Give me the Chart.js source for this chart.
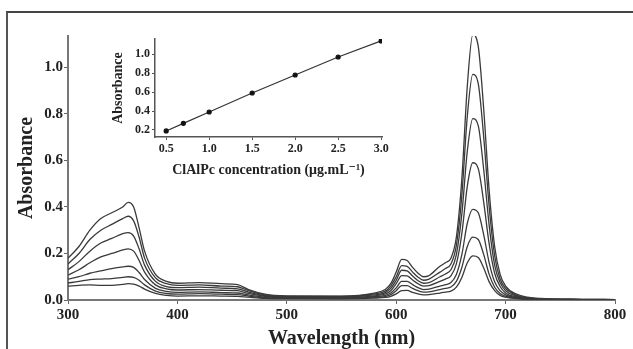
<!DOCTYPE html>
<html>
<head>
<meta charset="utf-8">
<script src="https://cdn.jsdelivr.net/npm/chart.js@4"></script>
<style>
  body { margin: 0; background: #fff; }
  #wrap { position: relative; width: 633px; height: 349px; }
  #frame { position: absolute; left: 6px; top: 11px; right: 0; bottom: 0;
           border-top: 2px solid #444; border-left: 2px solid #555; }
  #mainChart { position: absolute; left: 0; top: 0; }
  #insetChart { position: absolute; left: 90px; top: 25px; }
</style>
</head>
<body>
<div id="wrap">
  <div id="frame"></div>
  <canvas id="mainChart" width="633" height="349"></canvas>
  <canvas id="insetChart" width="320" height="160"></canvas>
</div>
<script>
// wavelengths (nm) of the sampled spectra
var wavelength = [300,310,320,330,340,350,355,360,365,370,380,390,400,420,440,455,465,480,500,550,580,590,595,600,605,610,615,620,625,630,640,645,650,655,660,665,670,675,680,685,690,695,700,710,720,740,770,800];

// absorbance spectra, one per concentration (ug/mL)
var spec30 = [.18,.23,.30,.35,.375,.40,.42,.40,.31,.21,.11,.08,.072,.075,.07,.066,.045,.025,.018,.017,.03,.045,.07,.12,.175,.17,.14,.115,.10,.105,.145,.16,.18,.27,.52,.92,1.14,1.09,.82,.47,.23,.11,.06,.025,.012,.005,.003,.002];
var spec25 = [.155,.20,.26,.30,.325,.35,.36,.34,.27,.18,.095,.07,.063,.065,.06,.057,.04,.022,.016,.015,.026,.038,.06,.10,.148,.145,.12,.098,.085,.09,.12,.135,.155,.235,.45,.79,.97,.93,.70,.40,.19,.09,.05,.02,.01,.004,.003,.002];
var spec20 = [.13,.165,.21,.245,.265,.285,.29,.275,.22,.15,.08,.058,.053,.055,.051,.048,.034,.019,.014,.013,.022,.032,.05,.085,.128,.125,.103,.083,.072,.075,.10,.112,.13,.195,.37,.64,.78,.75,.56,.32,.15,.075,.04,.017,.008,.004,.002,.002];
var spec15 = [.107,.13,.16,.185,.20,.215,.22,.21,.17,.12,.065,.048,.043,.045,.042,.04,.028,.016,.012,.011,.018,.026,.04,.07,.105,.104,.086,.07,.06,.062,.08,.09,.104,.155,.285,.49,.59,.565,.42,.24,.115,.058,.03,.013,.006,.003,.002,.001];
var spec10 = [.09,.10,.115,.125,.135,.142,.145,.14,.118,.088,.05,.037,.033,.035,.032,.03,.022,.013,.01,.009,.014,.02,.03,.052,.08,.08,.066,.053,.045,.047,.06,.066,.075,.11,.195,.33,.39,.375,.28,.16,.078,.04,.022,.01,.005,.003,.002,.001];
var spec07 = [.073,.08,.088,.09,.092,.097,.10,.097,.085,.065,.038,.028,.025,.027,.025,.023,.017,.01,.008,.007,.011,.015,.023,.04,.062,.062,.05,.04,.034,.035,.045,.05,.056,.08,.14,.23,.27,.26,.195,.11,.055,.028,.016,.008,.004,.002,.001,.001];
var spec05 = [.06,.063,.065,.063,.063,.067,.07,.068,.06,.047,.028,.02,.017,.018,.017,.016,.012,.007,.006,.005,.008,.011,.016,.026,.04,.041,.033,.026,.022,.023,.03,.034,.038,.055,.097,.16,.19,.183,.138,.078,.04,.02,.012,.006,.003,.002,.001,.001];

// calibration (inset)
var concentration = [0.5, 0.7, 1.0, 1.5, 2.0, 2.5, 3.0];
var peakAbsorbance = [0.19, 0.27, 0.39, 0.59, 0.78, 0.97, 1.14];

var serif = "'Liberation Serif', 'DejaVu Serif', serif";
var ink = '#222';

function toPoints(xs, ys) {
    return xs.map(function (x, i) { return {x: x, y: ys[i]}; });
}

var spectra = [spec30, spec25, spec20, spec15, spec10, spec07, spec05];

new Chart(document.getElementById('mainChart'), {
    type: 'line',
    data: {
        datasets: spectra.map(function (s) {
            return {
                data: toPoints(wavelength, s),
                borderColor: '#3a3a3a',
                borderWidth: 1.3,
                pointRadius: 0,
                fill: false,
                cubicInterpolationMode: 'monotone'
            };
        })
    },
    options: {
        responsive: false,
        animation: false,
        layout: { padding: { left: 0, top: 36, right: 18, bottom: 0 } },
        plugins: { legend: { display: false }, tooltip: { enabled: false } },
        scales: {
            x: {
                type: 'linear',
                min: 300,
                max: 800,
                afterFit: function (scale) { scale.height = 49; },
                grid: { drawOnChartArea: false, tickLength: 4, color: '#666' },
                border: { color: '#777', width: 2 },
                ticks: { stepSize: 100, padding: 2, color: ink, font: { family: serif, size: 15, weight: 'bold' } },
                title: { display: true, text: 'Wavelength (nm)', color: ink, padding: { top: 0, bottom: 0 },
                         font: { family: serif, size: 20, weight: 'bold', lineHeight: 1 } }
            },
            y: {
                min: 0,
                max: 1.135,
                afterFit: function (scale) { scale.width = 68; },
                afterBuildTicks: function (scale) {
                    scale.ticks = scale.ticks.filter(function (t) { return t.value <= 1.0001; });
                },
                grid: { drawOnChartArea: false, tickLength: 4, color: '#666' },
                border: { color: '#777', width: 2 },
                ticks: { stepSize: 0.2, padding: 1, color: ink,
                         callback: function (v) { return v.toFixed(1); },
                         font: { family: serif, size: 15, weight: 'bold' } },
                title: { display: true, text: 'Absorbance', color: ink, padding: { top: 15, bottom: 0 },
                         font: { family: serif, size: 20, weight: 'bold', lineHeight: 1.2 } }
            }
        }
    }
});

new Chart(document.getElementById('insetChart'), {
    type: 'line',
    data: {
        datasets: [{
            data: toPoints(concentration, peakAbsorbance),
            borderColor: '#333',
            borderWidth: 1.2,
            pointRadius: 2,
            pointBackgroundColor: '#111',
            pointBorderColor: '#111',
            fill: false,
            tension: 0
        }]
    },
    options: {
        responsive: false,
        animation: false,
        layout: { padding: { left: 0, top: 14, right: 28, bottom: 0 } },
        plugins: { legend: { display: false }, tooltip: { enabled: false } },
        scales: {
            x: {
                type: 'linear',
                min: 0.37,
                max: 3.01,
                afterFit: function (scale) { scale.height = 48; },
                afterBuildTicks: function (scale) {
                    scale.ticks = [0.5, 1.0, 1.5, 2.0, 2.5, 3.0].map(function (v) { return {value: v}; });
                },
                grid: { drawOnChartArea: false, tickLength: 3, color: '#555' },
                border: { color: '#555', width: 1.5 },
                ticks: { padding: 2, color: ink, callback: function (v) { return v.toFixed(1); },
                         font: { family: serif, size: 12, weight: 'bold' } },
                title: { display: true, text: 'ClAlPc concentration (\u03bcg.mL\u207b\u00b9)', color: ink,
                         padding: { top: 0, bottom: 8 },
                         font: { family: serif, size: 14, weight: 'bold', lineHeight: 1 } }
            },
            y: {
                min: 0.126,
                max: 1.16,
                afterFit: function (scale) { scale.width = 65; },
                afterBuildTicks: function (scale) {
                    scale.ticks = [0.2, 0.4, 0.6, 0.8, 1.0].map(function (v) { return {value: v}; });
                },
                grid: { drawOnChartArea: false, tickLength: 3, color: '#555' },
                border: { color: '#555', width: 1.5 },
                ticks: { padding: 2, color: ink, callback: function (v) { return v.toFixed(1); },
                         font: { family: serif, size: 12, weight: 'bold' } },
                title: { display: true, text: 'Absorbance', color: ink, padding: { top: 21, bottom: 0 },
                         font: { family: serif, size: 14, weight: 'bold', lineHeight: 1 } }
            }
        }
    }
});
</script>
</body>
</html>
